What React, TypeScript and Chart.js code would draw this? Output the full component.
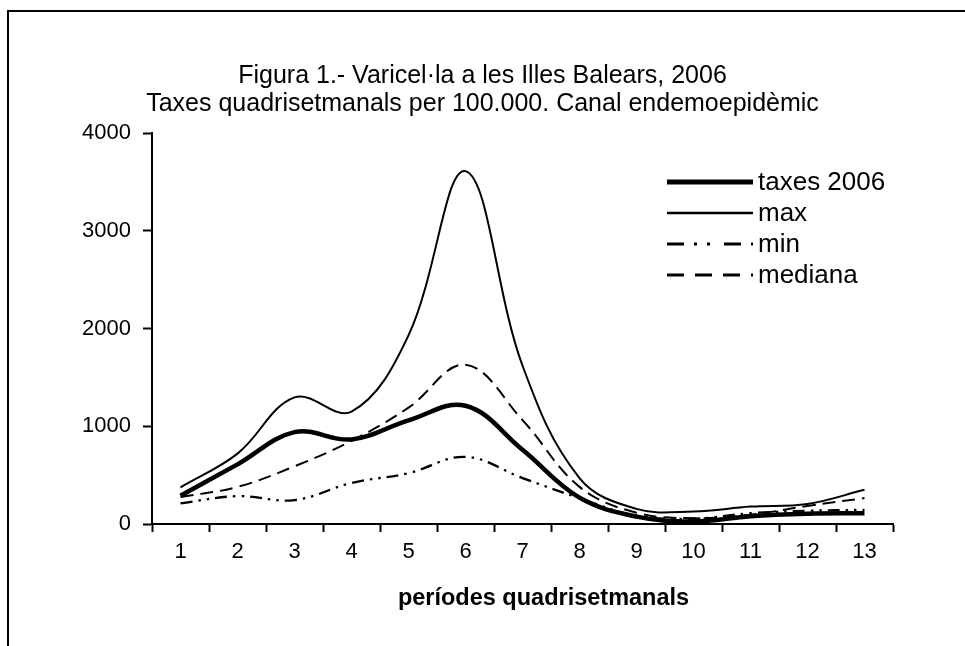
import React, { useEffect, useRef } from "react";
import { Chart, registerables } from "chart.js";

Chart.register(...registerables);

const categories = ["1", "2", "3", "4", "5", "6", "7", "8", "9", "10", "11", "12", "13"];
const taxes2006 = [290, 610, 940, 865, 1060, 1210, 760, 270, 75, 25, 80, 105, 110];
const maxValues = [375, 720, 1295, 1150, 1930, 3610, 1620, 470, 155, 127, 178, 205, 350];
const minValues = [212, 285, 245, 420, 520, 687, 470, 265, 85, 55, 110, 135, 145];
const medianValues = [275, 380, 590, 850, 1190, 1630, 1063, 380, 115, 60, 95, 185, 265];
const yTicks = [0, 1000, 2000, 3000, 4000];

const titleLines = [
  "Figura 1.- Varicel·la a les Illes Balears, 2006",
  "Taxes quadrisetmanals per 100.000. Canal endemoepidèmic",
];
const xTitle = "períodes quadrisetmanals";
const legendLineWidths = [5, 2.3, 3.2, 3.2];

const FONT = '"Liberation Sans", Arial, sans-serif';

const lineLegend = {
  id: "lineLegend",
  afterDraw(chart: any) {
    const { ctx, chartArea } = chart;
    const x0 = chartArea.right - 226;
    const x1 = x0 + 86;
    const y0 = chartArea.top + 49;
    chart.data.datasets.forEach((ds: any, i: number) => {
      const y = y0 + i * 31;
      ctx.save();
      ctx.strokeStyle = "#000";
      ctx.lineWidth = legendLineWidths[i];
      ctx.lineCap = "butt";
      ctx.setLineDash(ds.legendDash || []);
      ctx.beginPath();
      ctx.moveTo(x0, y);
      ctx.lineTo(x1, y);
      ctx.stroke();
      ctx.setLineDash([]);
      ctx.fillStyle = "#000";
      ctx.font = `26px ${FONT}`;
      ctx.textBaseline = "middle";
      ctx.textAlign = "left";
      ctx.fillText(ds.label, x1 + 5, y + 1);
      ctx.restore();
    });
  },
};

const axisTitle = {
  id: "axisTitle",
  afterDraw(chart: any) {
    const { ctx, chartArea } = chart;
    ctx.save();
    ctx.fillStyle = "#000";
    ctx.font = `bold 23.5px ${FONT}`;
    ctx.textBaseline = "middle";
    ctx.textAlign = "center";
    ctx.fillText(xTitle, (chartArea.left + chartArea.right) / 2 + 21, chartArea.bottom + 75);
    ctx.restore();
  },
};

export default function App() {
  const ref = useRef<HTMLCanvasElement>(null);

  useEffect(() => {
    if (!ref.current) return;
    const chart = new Chart(ref.current, {
      type: "line",
      data: {
        labels: categories,
        datasets: [
          {
            label: "taxes 2006",
            data: taxes2006,
            borderColor: "#000",
            borderWidth: 4.5,
            legendDash: [],
          } as any,
          {
            label: "max",
            data: maxValues,
            borderColor: "#000",
            borderWidth: 2,
            legendDash: [],
          } as any,
          {
            label: "min",
            data: minValues,
            borderColor: "#000",
            borderWidth: 2.3,
            borderDash: [12, 6, 2.5, 6, 2.5, 6],
            legendDash: [17, 10, 3, 10, 3, 14],
          } as any,
          {
            label: "mediana",
            data: medianValues,
            borderColor: "#000",
            borderWidth: 2,
            borderDash: [13, 7],
            legendDash: [17, 11],
          } as any,
        ],
      },
      options: {
        responsive: false,
        animation: false,
        devicePixelRatio: 1,
        layout: { padding: { left: 72, right: 72, top: 0, bottom: 0 } },
        elements: {
          point: { radius: 0, hoverRadius: 0 },
          line: { tension: 0.38, borderCapStyle: "butt", borderJoinStyle: "round" },
        },
        plugins: {
          legend: { display: false },
          tooltip: { enabled: false },
          title: {
            display: true,
            text: titleLines,
            color: "#000",
            font: { family: FONT, size: 25, weight: "normal", lineHeight: 28 / 25 },
            padding: { top: 62, bottom: 15 },
          },
        },
        scales: {
          x: {
            type: "category",
            offset: true,
            afterFit(scale: any) {
              scale.height = 122;
            },
            grid: {
              display: true,
              offset: true,
              drawOnChartArea: false,
              drawTicks: true,
              tickLength: 8,
              tickWidth: 2,
              tickColor: "#000",
            },
            border: { display: true, color: "#000", width: 2 },
            ticks: {
              color: "#000",
              font: { family: FONT, size: 22 },
              padding: 7,
              maxRotation: 0,
              autoSkip: false,
            },
            title: { display: false },
          },
          y: {
            min: 0,
            max: 4000,
            afterFit(scale: any) {
              scale.width = 80;
            },
            afterBuildTicks(scale: any) {
              scale.ticks = yTicks.map((v) => ({ value: v }));
            },
            grid: {
              display: true,
              drawOnChartArea: false,
              drawTicks: true,
              tickLength: 9,
              tickWidth: 2,
              tickColor: "#000",
            },
            border: { display: true, color: "#000", width: 2 },
            ticks: {
              color: "#000",
              font: { family: FONT, size: 22 },
              padding: 12,
              callback: (v: any) => String(v),
            },
          },
        },
      },
      plugins: [lineLegend, axisTitle],
    } as any);
    return () => chart.destroy();
  }, []);

  return (
    <div style={{ position: "fixed", left: 0, top: 0, width: "100vw", height: "100vh", overflow: "hidden", background: "#fff" }}>
      <div
        style={{
          position: "absolute",
          left: 7,
          top: 10,
          width: 1000,
          height: 700,
          border: "2px solid #000",
          boxSizing: "border-box",
        }}
      />
      <canvas
        ref={ref}
        width={965}
        height={646}
        style={{ position: "absolute", left: 0, top: 0, width: 965, height: 646, display: "block" }}
      />
    </div>
  );
}
